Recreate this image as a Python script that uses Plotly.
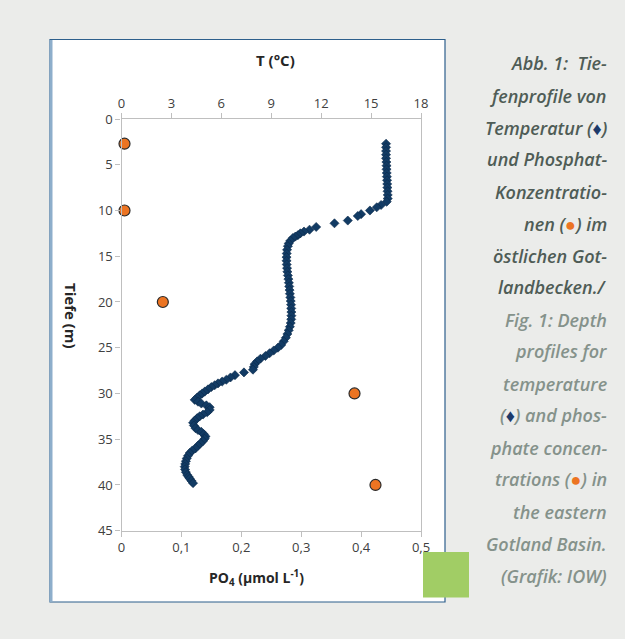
import plotly.graph_objects as go

# Temperature profile (depth in m, temperature in °C)
temp_depth = [2.7, 3.1, 3.5, 3.9, 4.3, 4.7, 5.1, 5.5, 5.9, 6.3, 6.7, 7.1, 7.5, 7.9, 8.3, 8.7,
              9.04, 9.4, 9.65, 10.0, 10.4, 10.6, 11.1, 11.4, 11.8, 12.1, 12.3, 12.5, 12.7, 12.85,
              13.0, 13.3, 13.6, 13.9, 14.3, 14.7, 15.1, 15.5, 15.9, 16.3, 16.7, 17.1, 17.5, 17.9,
              18.3, 18.7, 19.1, 19.5, 19.9, 20.3, 20.7, 21.1, 21.5, 21.9, 22.3, 22.7, 23.1, 23.5,
              23.9, 24.3, 24.7, 25.0, 25.3, 25.6, 25.9, 26.2, 26.5, 26.8, 27.1, 27.4, 27.7, 28.0,
              28.25, 28.5, 28.7, 28.9, 29.1, 29.3, 29.55, 29.8, 30.0, 30.2, 30.45, 30.7, 30.9,
              31.1, 31.3, 31.5, 31.8, 32.05, 32.3, 32.5, 32.7, 32.95, 33.2, 33.5, 33.8, 34.0,
              34.2, 34.45, 34.7, 34.95, 35.2, 35.45, 35.7, 36.0, 36.25, 36.5, 36.8, 37.1, 37.4,
              37.7, 38.0, 38.3, 38.6, 38.9, 39.1, 39.3, 39.55, 39.8]
temp_value = [15.9, 15.9, 15.9, 15.9, 15.9, 15.92, 15.93, 15.93, 15.94, 15.95, 15.96, 15.97, 15.98, 15.99, 16.0, 16.0,
              15.94, 15.6, 15.34, 14.93, 14.4, 14.2, 13.6, 12.8, 11.7, 11.3, 10.97, 10.75, 10.6, 10.45,
              10.3, 10.15, 10.05, 10.0, 9.95, 9.93, 9.92, 9.92, 9.93, 9.95, 9.97, 10.0, 10.03, 10.06,
              10.08, 10.1, 10.12, 10.15, 10.17, 10.19, 10.2, 10.21, 10.21, 10.2, 10.17, 10.12, 10.05, 9.97,
              9.88, 9.75, 9.6, 9.4, 9.15, 8.9, 8.65, 8.35, 8.15, 8.0, 7.95, 7.9, 7.36, 6.82,
              6.55, 6.3, 6.05, 5.8, 5.6, 5.4, 5.2, 5.0, 4.85, 4.7, 4.55, 4.4, 4.6,
              4.8, 5.1, 5.3, 5.3, 5.15, 4.9, 4.7, 4.55, 4.4, 4.3, 4.35, 4.45, 4.6,
              4.8, 4.95, 5.05, 5.0, 4.9, 4.75, 4.6, 4.45, 4.25, 4.1, 4.0, 3.92, 3.87,
              3.83, 3.8, 3.82, 3.87, 3.95, 4.03, 4.1, 4.2, 4.3]

# Phosphate samples (depth in m, PO4 in µmol/L)
po4_depth = [2.7, 10, 20, 30, 40]
po4_value = [0.005, 0.005, 0.069, 0.389, 0.424]

# Axis ticks
depth_ticks = [0, 5, 10, 15, 20, 25, 30, 35, 40, 45]
temp_ticks = [0, 3, 6, 9, 12, 15, 18]
po4_ticks = [0, 0.1, 0.2, 0.3, 0.4, 0.5]
po4_ticktext = ["0", "0,1", "0,2", "0,3", "0,4", "0,5"]

W, H = 625, 639


def fx(x):
    return x / W


def fy(y):
    return 1 - y / H


NAVY = "#123b64"
ORANGE = "#ec7422"
AXIS = "#bfbfbf"
TICKFONT = dict(family="Open Sans", size=13, color="#404040")

fig = go.Figure()

fig.add_trace(go.Scatter(
    x=po4_value, y=po4_depth, mode="markers", xaxis="x", yaxis="y",
    marker=dict(symbol="circle", size=11, color=ORANGE,
                line=dict(color="#2a2a2a", width=1.2)),
    showlegend=False, cliponaxis=False,
))
fig.add_trace(go.Scatter(
    x=temp_value, y=temp_depth, mode="markers", xaxis="x2", yaxis="y",
    marker=dict(symbol="diamond", size=7, color=NAVY,
                line=dict(color="#0b2a4a", width=0.6)),
    showlegend=False, cliponaxis=False,
))

x0, x1 = fx(121.5), fx(421)
y_top, y_bot = fy(119), fy(530.7)

fig.update_layout(
    width=W, height=H,
    margin=dict(l=0, r=0, t=0, b=0, autoexpand=False),
    paper_bgcolor="#ebecea",
    plot_bgcolor="white",
    xaxis=dict(domain=[x0, x1], range=[0, 0.5], tickvals=po4_ticks, ticktext=po4_ticktext,
               showline=True, linecolor=AXIS, linewidth=1.3, mirror=True, automargin=False,
               ticks="outside", ticklen=5, tickcolor=AXIS, showgrid=False, zeroline=False,
               tickfont=TICKFONT, anchor="y"),
    xaxis2=dict(domain=[x0, x1], range=[0, 18], tickvals=temp_ticks, overlaying="x",
                side="top", anchor="y", showline=True, linecolor=AXIS, linewidth=1.3,
                automargin=False,
                ticks="outside", ticklen=5, tickcolor=AXIS, showgrid=False, zeroline=False,
                tickfont=TICKFONT),
    yaxis=dict(domain=[y_bot, y_top], range=[45, 0], tickvals=depth_ticks,
               showline=True, linecolor=AXIS, linewidth=1.3, mirror=True, automargin=False,
               ticks="outside", ticklen=5, tickcolor=AXIS, showgrid=False, zeroline=False,
               tickfont=TICKFONT, anchor="x"),
)

# Chart frame and decorative square
fig.add_shape(type="rect", xref="paper", yref="paper",
              x0=fx(50), x1=fx(445), y0=fy(602), y1=fy(39.5),
              fillcolor="white", line=dict(color="#2d5f8c", width=1.2), layer="below")
fig.add_shape(type="line", xref="paper", yref="paper",
              x0=fx(51), x1=fx(51), y0=fy(602), y1=fy(40),
              line=dict(color="#8daecb", width=3), layer="below")
fig.add_shape(type="rect", xref="paper", yref="paper",
              x0=fx(423), x1=fx(469), y0=fy(597.5), y1=fy(552),
              fillcolor="#a1cd65", line=dict(width=0), layer="above")

TITLEFONT = dict(family="Open Sans", size=14, color="#262626")
fig.add_annotation(text="<b>T (°C)</b>", x=fx(275), y=fy(60), xref="paper", yref="paper",
                   showarrow=False, font=dict(family="Open Sans", size=15, color="#262626"),
                   xanchor="center", yanchor="middle")
fig.add_annotation(text="<b>Tiefe (m)</b>", x=fx(71), y=fy(316), xref="paper", yref="paper",
                   showarrow=False, font=dict(family="Open Sans", size=15, color="#262626"),
                   textangle=90, xanchor="center", yanchor="middle")
fig.add_annotation(text="<b>PO<sub>4</sub> (µmol L<sup>-1</sup>)</b>", x=fx(256), y=fy(578),
                   xref="paper", yref="paper", showarrow=False, font=TITLEFONT,
                   xanchor="center", yanchor="middle")

# Caption beside the chart
DE = "#4f5c56"
EN = "#85928b"
dia = "<span style='color:#1d3a6a'>♦</span>"
dot = "<span style='color:#ec7422'>●</span>"
caption = [
    ("Abb. 1:  Tie-", DE),
    ("fenprofile von", DE),
    ("Temperatur (" + dia + ")", DE),
    ("und Phosphat-", DE),
    ("Konzentratio-", DE),
    ("nen (" + dot + ") im", DE),
    ("östlichen Got-", DE),
    ("landbecken./", DE),
    ("Fig. 1: Depth", EN),
    ("profiles for", EN),
    ("temperature", EN),
    ("(" + dia + ") and phos-", EN),
    ("phate concen-", EN),
    ("trations (" + dot + ") in", EN),
    ("the eastern", EN),
    ("Gotland Basin.", EN),
    ("(Grafik: IOW)", EN),
]
for i, (line, col) in enumerate(caption):
    fig.add_annotation(text="<i>" + line + "</i>", x=fx(609), y=fy(63.5 + 32 * i),
                       xref="paper", yref="paper", showarrow=False,
                       font=dict(family="Open Sans", size=18, color=col, weight=600),
                       xanchor="right", yanchor="middle")

fig.write_html("out.html")
